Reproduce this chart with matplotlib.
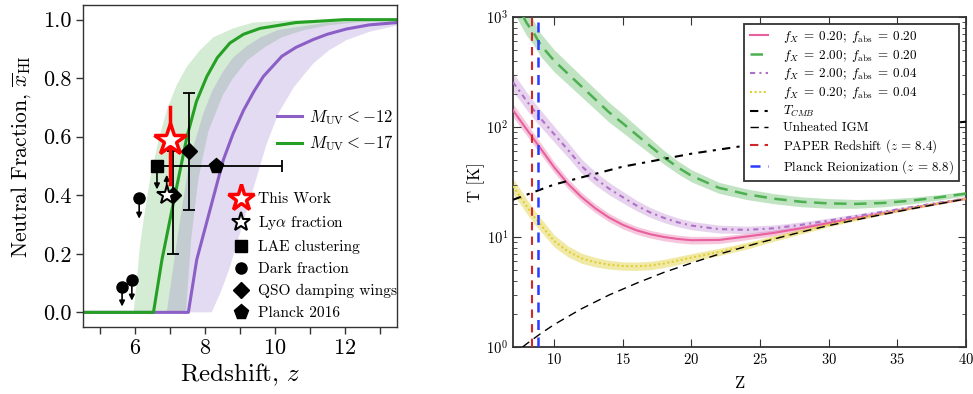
import numpy as np
import matplotlib
matplotlib.use("Agg")
import matplotlib.pyplot as plt
from matplotlib.lines import Line2D

plt.rcParams.update({
    'font.family': 'serif',
    'font.serif': ['cmr10', 'DejaVu Serif'],
    'mathtext.fontset': 'cm',
    'axes.formatter.use_mathtext': True,
    'axes.unicode_minus': False,
})

# ---------------- Left panel data ----------------
z_mid12 = [4.5, 7.52, 7.64, 7.76, 8.14, 8.52, 8.8, 9.1, 9.4, 9.67, 10.2, 10.6, 11.1, 11.5, 12.05, 12.7, 13.5]
x_mid12 = [0.0, 0.0, 0.09, 0.18, 0.35, 0.52, 0.61, 0.69, 0.755, 0.806, 0.875, 0.905, 0.932, 0.95, 0.968, 0.982, 0.99]
z_mid17 = [4.5, 6.52, 6.76, 7.05, 7.48, 7.75, 8.05, 8.35, 8.71, 9.1, 9.57, 10.6, 11.3, 12.0, 13.5]
x_mid17 = [0.0, 0.0, 0.178, 0.35, 0.60, 0.72, 0.806, 0.87, 0.92, 0.95, 0.97, 0.99, 0.995, 1.0, 1.0]

# band edges (z, x)
g_left_z = [5.95, 6.05, 6.14, 6.28, 6.43, 6.65, 6.9, 7.18, 7.48, 7.85, 8.24, 8.8, 9.38, 10.5, 13.5]
g_left_x = [0.0, 0.12, 0.235, 0.35, 0.46, 0.58, 0.69, 0.775, 0.84, 0.895, 0.94, 0.97, 0.99, 0.998, 1.0]
g_right_z = [7.45, 7.6, 7.8, 7.95, 8.1, 8.5, 8.8, 9.2, 9.7, 10.2, 10.8, 11.5, 12.5, 13.5]
g_right_x = [0.0, 0.25, 0.45, 0.54, 0.62, 0.74, 0.80, 0.86, 0.905, 0.94, 0.963, 0.98, 0.993, 1.0]
p_left_z = [6.9, 7.2, 7.5, 7.7, 7.95, 8.2, 8.5, 8.8, 9.2, 9.6, 10.1, 11.5, 13.5]
p_left_x = [0.0, 0.25, 0.48, 0.58, 0.68, 0.755, 0.82, 0.87, 0.91, 0.94, 0.965, 0.99, 1.0]
p_right_z = [8.19, 8.45, 8.7, 9.05, 9.4, 9.75, 10.1, 10.55, 11.1, 11.55, 12.05, 12.7, 13.5]
p_right_x = [0.0, 0.07, 0.15, 0.29, 0.43, 0.57, 0.68, 0.77, 0.85, 0.895, 0.93, 0.958, 0.98]

# observations
tw_z, tw_x, tw_lo, tw_hi = 6.99, 0.59, 0.44, 0.70
lya_z, lya_x, lya_lim = 6.9, 0.40, 0.47
lae_z, lae_x, lae_lim = 6.62, 0.50, 0.42
dark_z = [5.62, 5.9, 6.11]
dark_x = [0.087, 0.11, 0.39]
dark_lim = [0.02, 0.04, 0.32]
qso_z = [7.09, 7.54]
qso_x = [0.40, 0.55]
qso_elo = [0.20, 0.20]
qso_ehi = [0.15, 0.20]
planck_z, planck_x, planck_zlo, planck_zhi = 8.3, 0.50, 6.6, 10.2

# ---------------- Right panel data ----------------
z_T = [7, 7.5, 8, 8.5, 9, 10, 11, 12, 13, 14, 15, 16, 17, 18, 19, 20, 22, 24, 26, 28, 30, 32, 34, 36, 38, 40]
T_pink = [142, 116, 95, 78, 64, 43, 30.5, 23, 18.2, 15, 12.9, 11.5, 10.6, 10.0, 9.6, 9.35, 9.4, 10.1, 10.9, 12.0, 13.4, 14.9, 16.5, 18.3, 20.2, 22.3]
T_green = [1500, 1150, 880, 720, 560, 400, 305, 233, 178, 136, 108, 85, 67, 53, 43, 36, 28, 24.5, 22.3, 20.9, 20.2, 20.0, 20.4, 21.4, 22.9, 24.8]
T_purple = [255, 210, 172, 143, 120, 86, 62, 44, 34, 27.5, 23, 19.3, 16.7, 14.9, 13.6, 12.7, 11.8, 11.6, 12.0, 12.9, 14.1, 15.5, 17.0, 18.7, 20.5, 22.4]
T_yellow = [29, 23.5, 19, 15.5, 13, 9.2, 7.4, 6.4, 5.9, 5.6, 5.45, 5.42, 5.5, 5.75, 6.1, 6.5, 7.3, 8.3, 9.7, 11.2, 12.9, 14.6, 16.4, 18.3, 20.2, 22.3]
hw_pink = [0.06, 0.058, 0.056, 0.054, 0.052, 0.048, 0.045, 0.042, 0.04, 0.038, 0.037, 0.036, 0.035, 0.035, 0.035, 0.035, 0.033, 0.03, 0.027, 0.023, 0.02, 0.017, 0.014, 0.012, 0.01, 0.008]
hw_green = [0.12, 0.12, 0.115, 0.11, 0.105, 0.1, 0.097, 0.094, 0.092, 0.09, 0.085, 0.078, 0.07, 0.062, 0.058, 0.055, 0.05, 0.048, 0.046, 0.045, 0.044, 0.04, 0.035, 0.03, 0.025, 0.02]
hw_purple = [0.085, 0.082, 0.08, 0.078, 0.076, 0.072, 0.068, 0.064, 0.06, 0.056, 0.052, 0.048, 0.045, 0.042, 0.04, 0.038, 0.036, 0.034, 0.03, 0.026, 0.022, 0.018, 0.015, 0.012, 0.01, 0.008]
hw_yellow = [0.07, 0.068, 0.066, 0.064, 0.06, 0.055, 0.05, 0.046, 0.043, 0.04, 0.038, 0.038, 0.038, 0.038, 0.037, 0.036, 0.033, 0.03, 0.026, 0.022, 0.018, 0.015, 0.012, 0.01, 0.009, 0.008]
z_unh = [7.7, 8, 9, 10, 12, 14, 16, 18, 20, 22, 25, 28, 30, 33, 36, 40]
T_unh = [1.0, 1.07, 1.32, 1.6, 2.23, 2.97, 3.8, 4.77, 5.8, 6.98, 8.9, 11.1, 12.7, 15.2, 18.0, 22.2]
z_cmb = [7, 10, 15, 20, 25, 30, 35, 40]
T_cmb = [21.8, 30.0, 43.6, 57.2, 70.9, 84.5, 98.1, 111.7]
z_paper = 8.4
z_planck = 8.8

labels_R = [r'$f_X\;=\;0.20;\;f_{\rm abs}\;=\;0.20$',
            r'$f_X\;=\;2.00;\;f_{\rm abs}\;=\;0.20$',
            r'$f_X\;=\;2.00;\;f_{\rm abs}\;=\;0.04$',
            r'$f_X\;=\;0.20;\;f_{\rm abs}\;=\;0.04$',
            r'$T_{CMB}$', 'Unheated IGM',
            r'PAPER Redshift ($z\,=\,8.4$)',
            r'Planck Reionization ($z\,=\,8.8$)']

fig = plt.figure(figsize=(9.73, 3.94), dpi=100)

# ================= LEFT =================
axL = fig.add_axes([83/973, 67/394, 314/973, 322/394])
c_purple = '#8b5fc6'
c_green = '#25a025'
axL.fill(np.concatenate([g_left_z, g_right_z[::-1]]), np.concatenate([g_left_x, g_right_x[::-1]]),
         color='#2ca02c', alpha=0.2, lw=0, zorder=1)
axL.fill(np.concatenate([p_left_z, p_right_z[::-1]]), np.concatenate([p_left_x, p_right_x[::-1]]),
         color='#9370c8', alpha=0.25, lw=0, zorder=1)
l12, = axL.plot(z_mid12, x_mid12, color=c_purple, lw=2.2, zorder=2, label=r'$M_{\rm UV}<-12$')
l17, = axL.plot(z_mid17, x_mid17, color=c_green, lw=2.2, zorder=2, label=r'$M_{\rm UV}<-17$')

# limits arrows
akw = dict(arrowstyle='-|>', color='k', lw=1.2, mutation_scale=8, shrinkA=0, shrinkB=0)
for z, x, lim in zip(dark_z, dark_x, dark_lim):
    axL.annotate('', xy=(z, lim), xytext=(z, x), arrowprops=akw, zorder=4)
axL.annotate('', xy=(lae_z, lae_lim), xytext=(lae_z, lae_x), arrowprops=akw, zorder=4)
axL.annotate('', xy=(lya_z, lya_lim), xytext=(lya_z, lya_x), arrowprops=akw, zorder=4)

axL.errorbar(qso_z, qso_x, yerr=[qso_elo, qso_ehi], fmt='D', color='k', ms=8, lw=1.3,
             capsize=4, capthick=1.3, zorder=5)
axL.errorbar([planck_z], [planck_x], xerr=[[planck_z - planck_zlo], [planck_zhi - planck_z]],
             fmt='p', color='k', ms=11, lw=1.3, capsize=4, capthick=1.3, zorder=5)
axL.plot(dark_z, dark_x, 'o', color='k', ms=8, zorder=5)
axL.plot([lae_z], [lae_x], 's', color='k', ms=8, zorder=5)
axL.plot([lya_z], [lya_x], '*', mfc='white', mec='k', mew=1.5, ms=15, zorder=6)
axL.plot([tw_z, tw_z], [tw_lo, tw_hi], color='red', lw=2.5, zorder=6)
axL.plot([tw_z], [tw_x], '*', mfc='white', mec='red', mew=2.5, ms=24, zorder=7)

axL.set_xlim(4.5, 13.5)
axL.set_ylim(-0.05, 1.05)
axL.set_xticks([6, 8, 10, 12])
axL.set_xticks([5, 7, 9, 11, 13], minor=True)
axL.set_yticks([0.0, 0.2, 0.4, 0.6, 0.8, 1.0])
axL.set_yticklabels(['0.0', '0.2', '0.4', '0.6', '0.8', '1.0'])
axL.tick_params(which='both', direction='out', length=5, width=1.0, top=False, right=False,
                labelsize=16, color='#333333')
for s in axL.spines.values():
    s.set_color('#333333')
    s.set_linewidth(1.0)
axL.set_xlabel(r'Redshift, $z$', fontsize=18, labelpad=2)
axL.set_ylabel(r'Neutral Fraction, $\overline{x}_{\rm HI}$', fontsize=15.5)
axL.yaxis.set_label_coords(-0.16, 0.53)

leg1 = axL.legend(handles=[l12, l17], loc='upper right', bbox_to_anchor=(1.0, 0.69), frameon=False,
                  fontsize=12, handlelength=1.5, handletextpad=0.4, borderpad=0.1, borderaxespad=0.1,
                  labelspacing=0.4)
axL.add_artist(leg1)
h_tw = Line2D([], [], ls='none', marker='*', mfc='white', mec='red', mew=2.5, ms=20)
h_lya = Line2D([], [], ls='none', marker='*', mfc='white', mec='k', mew=1.5, ms=14)
h_lae = Line2D([], [], ls='none', marker='s', color='k', ms=8)
h_dark = Line2D([], [], ls='none', marker='o', color='k', ms=8)
h_qso = Line2D([], [], ls='none', marker='D', color='k', ms=8)
h_pl = Line2D([], [], ls='none', marker='p', color='k', ms=11)
axL.legend(handles=[h_tw, h_lya, h_lae, h_dark, h_qso, h_pl],
           labels=['This Work', r'Ly$\alpha$ fraction', 'LAE clustering', 'Dark fraction',
                   'QSO damping wings', 'Planck 2016'],
           loc='lower left', bbox_to_anchor=(0.465, 0.012), frameon=False, fontsize=11.1,
           handlelength=1.2, handletextpad=0.45, borderpad=0.1, borderaxespad=0.1, labelspacing=0.52)

# ================= RIGHT =================
axR = fig.add_axes([513/973, 47/394, 453/973, 330/394])
zT = np.array(z_T)
series = [
    (T_pink, hw_pink, '#e8609d', dict(ls='-', lw=1.5), 0.35),
    (T_green, hw_green, '#4cb050', dict(ls=(0, (5, 3)), lw=1.8), 0.35),
    (T_purple, hw_purple, '#b070c8', dict(ls=(0, (2.5, 2, 1, 2)), lw=1.5), 0.3),
    (T_yellow, hw_yellow, '#e0cf3a', dict(ls=(0, (1, 1.2)), lw=1.5), 0.45),
]
handles = []
for T, hw, col, kw, al in series:
    T = np.array(T)
    hw = np.array(hw)
    axR.fill_between(zT, T / 10**hw, T * 10**hw, color=col, alpha=al, lw=0, zorder=1)
    h, = axR.plot(zT, T, color=col, zorder=3, **kw)
    handles.append(h)
h, = axR.plot(z_cmb, T_cmb, color='k', ls=(0, (4, 3, 1.5, 3)), lw=1.5, zorder=3)
handles.append(h)
h, = axR.plot(z_unh, T_unh, color='k', ls=(0, (6, 4)), lw=1.0, zorder=3)
handles.append(h)
handles.append(axR.axvline(z_paper, color='#d02828', ls=(0, (4, 3)), lw=1.5, zorder=4))
handles.append(axR.axvline(z_planck, color='#2a3cff', ls=(0, (4, 3)), lw=1.8, zorder=4))

axR.set_yscale('log')
axR.set_xlim(7, 40)
axR.set_ylim(1, 1000)
axR.set_xticks([10, 15, 20, 25, 30, 35, 40])
axR.tick_params(which='both', direction='in', top=True, right=True, labelsize=10.5, color='#333333')
axR.tick_params(which='major', length=6)
axR.tick_params(which='minor', length=3)
for s in axR.spines.values():
    s.set_color('#333333')
    s.set_linewidth(1.3)
axR.set_xlabel('Z', fontsize=12, labelpad=6)
axR.set_ylabel('T [K]', fontsize=12)
axR.yaxis.set_label_coords(-0.062, 0.5)
leg = axR.legend(handles, labels_R, loc='upper right', fontsize=9.4, frameon=True, fancybox=False,
                 edgecolor='#333333', framealpha=1, handlelength=1.4, handletextpad=1.2,
                 labelspacing=0.22, borderpad=0.4, borderaxespad=0.5)
leg.get_frame().set_linewidth(1.3)

fig.savefig('out.png', dpi=100)
